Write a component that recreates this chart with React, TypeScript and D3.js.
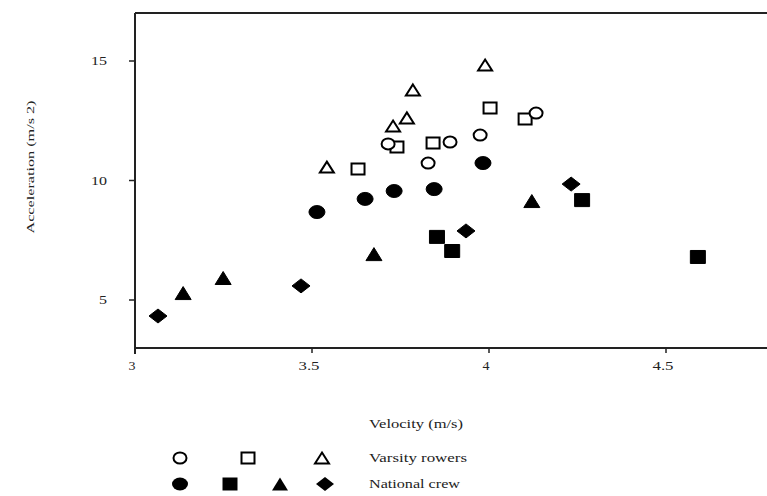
import React from "react";
import * as d3 from "d3";

type Pt = [number, number];

// Varsity rowers (open symbols)
const varsityCircle: Pt[] = [[3.715, 11.53], [3.828, 10.73], [3.89, 11.61], [3.975, 11.9], [4.133, 12.82]];
const varsitySquare: Pt[] = [[3.63, 10.48], [3.74, 11.4], [3.842, 11.57], [4.003, 13.03], [4.102, 12.57]];
const varsityTriangle: Pt[] = [[3.542, 10.56], [3.729, 12.28], [3.768, 12.62], [3.785, 13.79], [3.989, 14.83]];

// National crew (filled symbols)
const nationalCircle: Pt[] = [[3.514, 8.68], [3.65, 9.23], [3.732, 9.56], [3.845, 9.64], [3.983, 10.73]];
const nationalSquare: Pt[] = [[3.853, 7.64], [3.896, 7.05], [4.263, 9.18], [4.59, 6.8]];
const nationalTriangle: Pt[] = [[3.136, 5.29], [3.249, 5.92], [3.675, 6.92], [4.121, 9.14]];
const nationalDiamond: Pt[] = [[3.065, 4.33], [3.469, 5.59], [3.935, 7.89], [4.232, 9.85]];

const xTicks = [3, 3.5, 4, 4.5];
const xTickLabels = ["3", "3.5", "4", "4.5"];
const yTicks = [5, 10, 15];
const yTickLabels = ["5", "10", "15"];

const xLabel = "Velocity (m/s)";
const yLabel = "Acceleration (m/s 2)";
const legendLabels = ["Varsity rowers", "National crew"];

const W = 767;
const H = 496;
const left = 135;
const top = 13;
const bottom = 348;

const x = d3.scaleLinear().domain([3, 4.5]).range([135, 666]);
const y = d3.scaleLinear().domain([5, 15]).range([300, 61]);

type Shape = "circle" | "square" | "triangle" | "diamond";

function shapePath(shape: Shape, cx: number, cy: number, open: boolean): string {
  const p = d3.path();
  if (shape === "circle") {
    const rx = open ? 6.5 : 8;
    const ry = open ? 5.5 : 6.5;
    return `M${cx + rx},${cy} A${rx},${ry} 0 1,1 ${cx - rx},${cy} A${rx},${ry} 0 1,1 ${cx + rx},${cy} Z`;
  }
  if (shape === "square") {
    const hw = open ? 6.5 : 7.5;
    const hh = open ? 5.5 : 6.5;
    p.rect(cx - hw, cy - hh, hw * 2, hh * 2);
    return p.toString();
  }
  if (shape === "triangle") {
    const hw = open ? 7 : 8;
    const hh = open ? 5.5 : 6.5;
    p.moveTo(cx, cy - hh);
    p.lineTo(cx + hw, cy + hh);
    p.lineTo(cx - hw, cy + hh);
    p.closePath();
    return p.toString();
  }
  const hw = 9;
  const hh = 7;
  p.moveTo(cx, cy - hh);
  p.lineTo(cx + hw, cy);
  p.lineTo(cx, cy + hh);
  p.lineTo(cx - hw, cy);
  p.closePath();
  return p.toString();
}

function Marks({ data, shape, open }: { data: Pt[]; shape: Shape; open: boolean }) {
  return (
    <g>
      {data.map((d, i) => (
        <path
          key={i}
          d={shapePath(shape, x(d[0]), y(d[1]), open)}
          fill={open ? "#fff" : "#000"}
          stroke="#000"
          strokeWidth={open ? 2 : 1}
        />
      ))}
    </g>
  );
}

export default function App() {
  const font = "'Liberation Serif', 'Times New Roman', serif";
  const txt = "#222";
  return (
    <svg
      width={W}
      height={H}
      style={{ position: "absolute", left: 0, top: 0, background: "#fff" }}
      fontFamily={font}
    >
      <rect width={W} height={H} fill="#fff" />
      {/* frame */}
      <line x1={left} x2={W} y1={top} y2={top} stroke="#222" strokeWidth={2} />
      <line x1={left} x2={W} y1={bottom} y2={bottom} stroke="#222" strokeWidth={2} />
      <line x1={left} x2={left} y1={top} y2={bottom + 6} stroke="#222" strokeWidth={2} />
      {/* y ticks */}
      {yTicks.map((t, i) => (
        <g key={t}>
          <line x1={left - 6} x2={left} y1={y(t)} y2={y(t)} stroke="#222" strokeWidth={1.5} />
          <text
            x={left - 28}
            y={y(t)}
            dy="0.35em"
            textAnchor="end"
            fontSize={12}
            fill={txt}
            textLength={yTickLabels[i].length * 8}
            lengthAdjust="spacingAndGlyphs"
          >
            {yTickLabels[i]}
          </text>
        </g>
      ))}
      {/* x ticks */}
      {xTicks.map((t, i) => (
        <g key={t}>
          <line x1={x(t)} x2={x(t)} y1={bottom} y2={bottom + 5} stroke="#222" strokeWidth={1.5} />
          <text
            x={x(t) - 3}
            y={bottom + 22}
            textAnchor="middle"
            fontSize={12}
            fill={txt}
            textLength={xTickLabels[i].length * 7}
            lengthAdjust="spacingAndGlyphs"
          >
            {xTickLabels[i]}
          </text>
        </g>
      ))}
      {/* axis labels */}
      <text
        transform={`translate(30,167) rotate(-90)`}
        textAnchor="middle"
        dy="0.35em"
        fontSize={10.5}
        fill={txt}
        textLength={133}
        lengthAdjust="spacingAndGlyphs"
      >
        {yLabel}
      </text>
      <text x={369} y={428} fontSize={11.5} fill={txt} textLength={94} lengthAdjust="spacingAndGlyphs">
        {xLabel}
      </text>

      {/* marks */}
      <Marks data={nationalDiamond} shape="diamond" open={false} />
      <Marks data={nationalTriangle} shape="triangle" open={false} />
      <Marks data={nationalSquare} shape="square" open={false} />
      <Marks data={nationalCircle} shape="circle" open={false} />
      <Marks data={varsitySquare} shape="square" open={true} />
      <Marks data={varsityTriangle} shape="triangle" open={true} />
      <Marks data={varsityCircle} shape="circle" open={true} />

      {/* legend */}
      <path d={shapePath("circle", 180, 458, true)} fill="#fff" stroke="#000" strokeWidth={2} />
      <path d={shapePath("square", 248, 458, true)} fill="#fff" stroke="#000" strokeWidth={2} />
      <path d={shapePath("triangle", 322, 458, true)} fill="#fff" stroke="#000" strokeWidth={2} />
      <path d={shapePath("circle", 180, 484, false)} fill="#000" />
      <path d={shapePath("square", 230, 484, false)} fill="#000" />
      <path d={shapePath("triangle", 280, 484, false)} fill="#000" />
      <path d={shapePath("diamond", 325, 484, false)} fill="#000" />
      <text x={369} y={458} dy="0.35em" fontSize={11.5} fill={txt} textLength={98} lengthAdjust="spacingAndGlyphs">
        {legendLabels[0]}
      </text>
      <text x={369} y={484} dy="0.35em" fontSize={11.5} fill={txt} textLength={91} lengthAdjust="spacingAndGlyphs">
        {legendLabels[1]}
      </text>
    </svg>
  );
}
